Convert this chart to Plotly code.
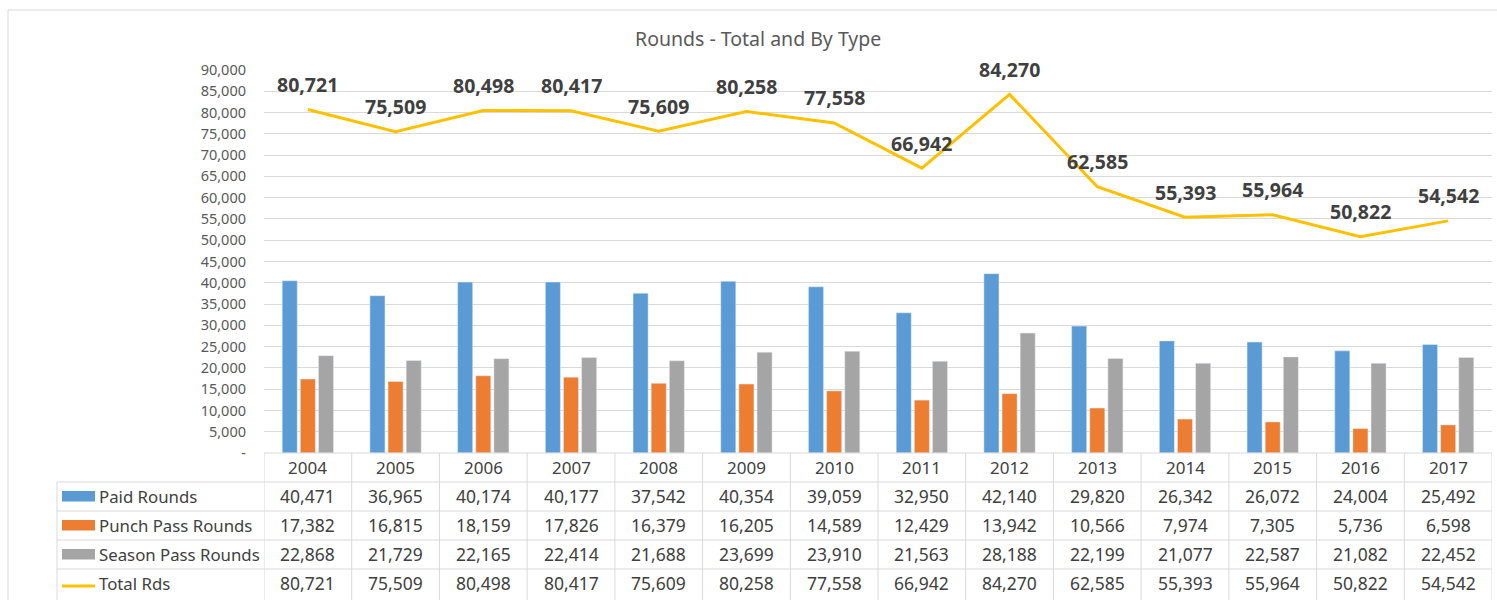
import plotly.graph_objects as go

years = ["2004", "2005", "2006", "2007", "2008", "2009", "2010", "2011", "2012", "2013", "2014", "2015", "2016", "2017"]
paid = [40471, 36965, 40174, 40177, 37542, 40354, 39059, 32950, 42140, 29820, 26342, 26072, 24004, 25492]
punch = [17382, 16815, 18159, 17826, 16379, 16205, 14589, 12429, 13942, 10566, 7974, 7305, 5736, 6598]
season = [22868, 21729, 22165, 22414, 21688, 23699, 23910, 21563, 28188, 22199, 21077, 22587, 21082, 22452]
total = [80721, 75509, 80498, 80417, 75609, 80258, 77558, 66942, 84270, 62585, 55393, 55964, 50822, 54542]
series_names = ["Paid Rounds", "Punch Pass Rounds", "Season Pass Rounds", "Total Rds"]
tick_vals = list(range(0, 90001, 5000))
tick_text = ["-" if v == 0 else f"{v:,}" for v in tick_vals]

W, H = 1497, 600
FONT = "Noto Sans"
C_BLUE, C_ORANGE, C_GRAY, C_GOLD = "#5B9BD5", "#ED7D31", "#A5A5A5", "#FFC000"
TXT = "#404040"
GRID = "#d9d9d9"

def px(x):
    return x / W

def py(y):
    return 1 - y / H

idx = list(range(len(years)))
fig = go.Figure()
fig.add_trace(go.Bar(x=idx, y=paid, name=series_names[0], marker_color=C_BLUE))
fig.add_trace(go.Bar(x=idx, y=punch, name=series_names[1], marker_color=C_ORANGE))
fig.add_trace(go.Bar(x=idx, y=season, name=series_names[2], marker_color=C_GRAY))
fig.add_trace(go.Scatter(x=idx, y=total, name=series_names[3], mode="lines",
                         line=dict(color=C_GOLD, width=3)))

annotations = []
for i, v in enumerate(total):
    annotations.append(dict(x=i, y=v, xref="x", yref="y", text=f"<b>{v:,}</b>",
                            showarrow=False, yshift=25, xanchor="center", yanchor="middle",
                            font=dict(family=FONT, size=19.5, color=TXT)))
annotations.append(dict(x=px(758), y=py(39), xref="paper", yref="paper",
                        text="Rounds - Total and By Type", showarrow=False,
                        xanchor="center", yanchor="middle",
                        font=dict(family=FONT, size=19.5, color="#595959")))

row_y = [496, 525, 554, 583]
rows = [paid, punch, season, total]
for i, yr in enumerate(years):
    annotations.append(dict(x=i, y=py(467), xref="x", yref="paper", text=yr, showarrow=False,
                            xanchor="center", yanchor="middle",
                            font=dict(family=FONT, size=17, color=TXT)))
    for r, vals in enumerate(rows):
        annotations.append(dict(x=i, y=py(row_y[r]), xref="x", yref="paper",
                                text=f"{vals[i]:,}", showarrow=False,
                                xanchor="center", yanchor="middle",
                                font=dict(family=FONT, size=17.5, color=TXT)))
for r, name in enumerate(series_names):
    annotations.append(dict(x=px(97), y=py(row_y[r]), xref="paper", yref="paper",
                            text=name, showarrow=False, xanchor="left", yanchor="middle",
                            font=dict(family=FONT, size=16.8, color=TXT)))

shapes = []
line = dict(color=GRID, width=1)
shapes.append(dict(type="line", xref="paper", yref="paper", x0=px(8), x1=1, y0=py(10), y1=py(10), line=line))
shapes.append(dict(type="line", xref="paper", yref="paper", x0=px(8), x1=px(8), y0=py(10), y1=0, line=line))
shapes.append(dict(type="line", xref="x", yref="paper", x0=-0.5, x1=len(years) - 0.5,
                   y0=py(453), y1=py(453), line=line))
for yv in [482, 511, 540, 569]:
    shapes.append(dict(type="line", xref="paper", yref="paper", x0=px(57), x1=px(1492),
                       y0=py(yv), y1=py(yv), line=line))
shapes.append(dict(type="line", xref="paper", yref="paper", x0=px(57), x1=px(57),
                   y0=py(482), y1=0, line=line))
for i in range(len(years) + 1):
    shapes.append(dict(type="line", xref="x", yref="paper", x0=i - 0.5, x1=i - 0.5,
                       y0=py(453), y1=0, line=line))
key_cols = [C_BLUE, C_ORANGE, C_GRAY]
for r, c in enumerate(key_cols):
    shapes.append(dict(type="rect", xref="paper", yref="paper", x0=px(62), x1=px(95),
                       y0=py(row_y[r] + 5.5), y1=py(row_y[r] - 5), fillcolor=c, line=dict(width=0)))
shapes.append(dict(type="line", xref="paper", yref="paper", x0=px(62), x1=px(95),
                   y0=py(row_y[3] + 3), y1=py(row_y[3] + 3), line=dict(color=C_GOLD, width=3)))

fig.update_layout(
    width=W, height=H, autosize=False,
    margin=dict(l=0, r=0, t=0, b=0, pad=0),
    paper_bgcolor="white", plot_bgcolor="white",
    showlegend=False,
    barmode="group", bargap=0.38, bargroupgap=0.17,
    xaxis=dict(domain=[px(264), px(1492)], range=[-0.5, len(years) - 0.5], automargin=False,
               showticklabels=False, showgrid=False, zeroline=False, showline=False),
    yaxis=dict(domain=[py(453), py(70)], range=[0, 90000], tickvals=tick_vals, ticktext=tick_text,
               automargin=False,
               showgrid=True, gridcolor=GRID, gridwidth=1, zeroline=False, showline=False,
               ticklabelstandoff=17,
               tickfont=dict(family=FONT, size=14.5, color="#595959")),
    annotations=annotations,
    shapes=shapes,
)

fig.write_html("out.html", config={"displayModeBar": False},
               post_script="document.body.style.margin='0';document.body.style.overflow='hidden';")
